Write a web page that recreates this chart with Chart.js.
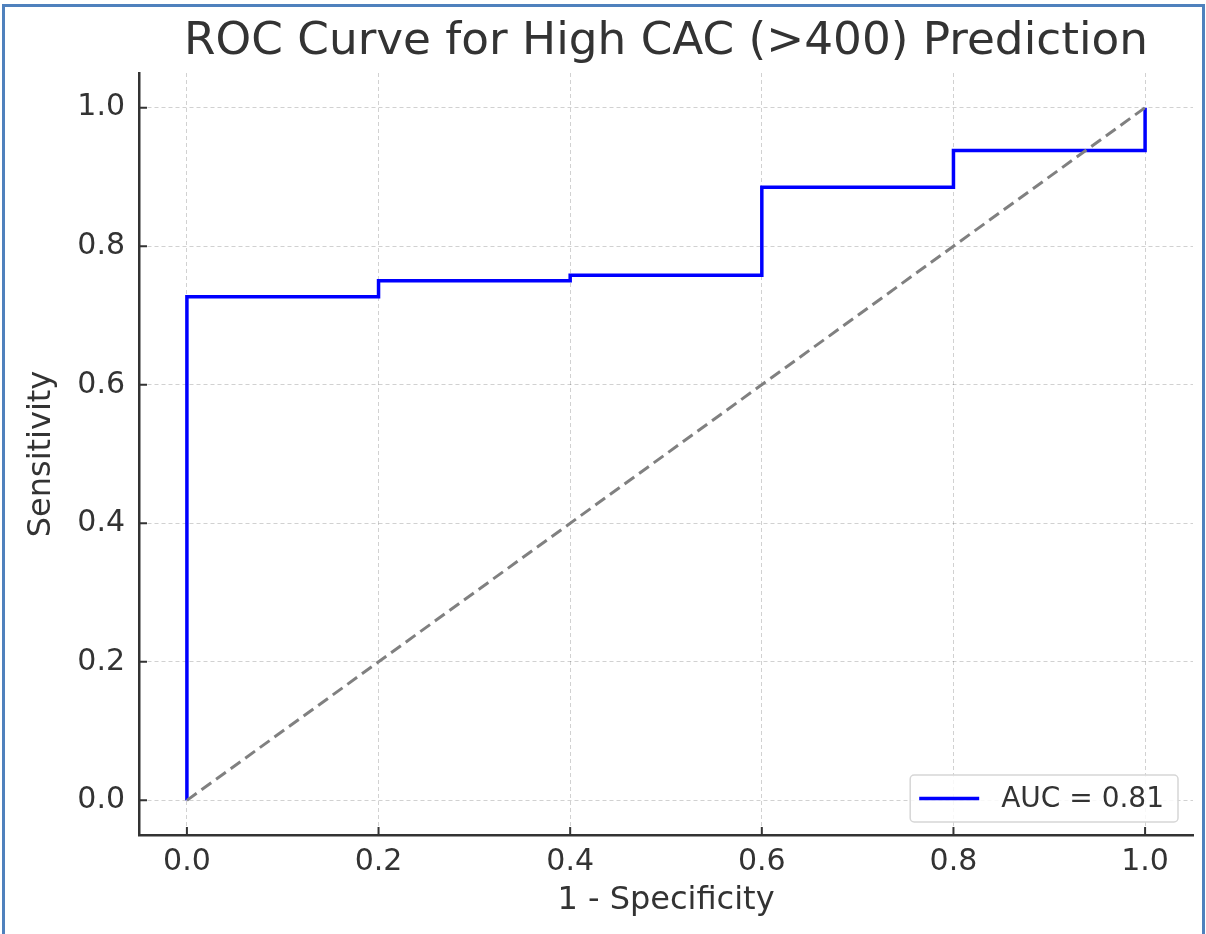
<!DOCTYPE html>
<html>
<head>
<meta charset="utf-8">
<script src="https://cdn.jsdelivr.net/npm/chart.js@4"></script>
<style>
  html, body { margin: 0; padding: 0; background: #fff; }
  #wrap { position: relative; width: 1206px; height: 934px; }
  #frame { position: absolute; left: 2px; top: 4px; right: 1px; bottom: -5px; border: 3px solid #4f81bd; pointer-events: none; }
</style>
</head>
<body>
<div id="wrap">
  <canvas id="roc" width="1206" height="934"></canvas>
  <div id="frame"></div>
</div>
<script>
// ROC points (1 - specificity, sensitivity)
const fpr = [0, 0, 0.2, 0.2, 0.4, 0.4, 0.6, 0.6, 0.8, 0.8, 1.0, 1.0];
const tpr = [0, 0.727, 0.727, 0.75, 0.75, 0.758, 0.758, 0.885, 0.885, 0.938, 0.938, 1.0];
// chance line
const chanceX = [0, 1];
const chanceY = [0, 1];
const xTicks = [0, 0.2, 0.4, 0.6, 0.8, 1.0];
const yTicks = [0, 0.2, 0.4, 0.6, 0.8, 1.0];
const aucLabel = 'AUC = 0.81';
const titleText = 'ROC Curve for High CAC (>400) Prediction';

const FONT = 'DejaVu Sans';
const INK = '#333333';

const titlePlugin = {
  id: 'plotTitle',
  afterDraw(chart) {
    const {ctx, chartArea} = chart;
    ctx.save();
    ctx.font = `44px "${FONT}"`;
    ctx.fillStyle = INK;
    ctx.textAlign = 'center';
    ctx.textBaseline = 'middle';
    // source figure text is a little wider than DejaVu
    ctx.translate((chartArea.left + chartArea.right) / 2, 43);
    ctx.scale(1.03, 1);
    ctx.fillText(titleText, 0, 0);
    ctx.restore();
  }
};

// matplotlib style: ticks pointing into the axes
const innerTicks = {
  id: 'innerTicks',
  afterDraw(chart) {
    const {ctx, chartArea, scales} = chart;
    ctx.save();
    ctx.strokeStyle = INK;
    ctx.lineWidth = 2;
    ctx.beginPath();
    xTicks.forEach(v => {
      const px = scales.x.getPixelForValue(v);
      ctx.moveTo(px, chartArea.bottom);
      ctx.lineTo(px, chartArea.bottom - 8);
    });
    yTicks.forEach(v => {
      const py = scales.y.getPixelForValue(v);
      ctx.moveTo(chartArea.left, py);
      ctx.lineTo(chartArea.left + 8, py);
    });
    ctx.stroke();
    ctx.restore();
  }
};

const boxLegend = {
  id: 'boxLegend',
  afterDraw(chart) {
    const {ctx, chartArea} = chart;
    const ds = chart.data.datasets[0];
    ctx.save();
    ctx.font = `28px "${FONT}"`;
    const tw = ctx.measureText(ds.label).width;
    const w = 9 + 60 + 22 + tw + 14;
    const h = 47;
    const x = chartArea.right - 15 - w;
    const y = chartArea.bottom - 13 - h;
    ctx.fillStyle = 'rgba(255,255,255,0.85)';
    ctx.strokeStyle = '#d6d6d6';
    ctx.lineWidth = 1.5;
    ctx.beginPath();
    ctx.roundRect(x, y, w, h, 4);
    ctx.fill();
    ctx.stroke();
    ctx.strokeStyle = ds.borderColor;
    ctx.lineWidth = 3.5;
    ctx.beginPath();
    ctx.moveTo(x + 9, y + h / 2);
    ctx.lineTo(x + 69, y + h / 2);
    ctx.stroke();
    ctx.fillStyle = INK;
    ctx.textBaseline = 'middle';
    ctx.fillText(ds.label, x + 91, y + h / 2 + 1);
    ctx.restore();
  }
};

const gridOpts = {
  color: 'rgba(0,0,0,0.18)',
  lineWidth: 1,
  drawTicks: false
};

new Chart(document.getElementById('roc'), {
  type: 'scatter',
  data: {
    datasets: [
      {
        label: aucLabel,
        data: fpr.map((x, i) => ({x: x, y: tpr[i]})),
        showLine: true,
        borderColor: '#0000ff',
        borderWidth: 3.5,
        pointRadius: 0,
        order: 1
      },
      {
        label: 'chance',
        data: chanceX.map((x, i) => ({x: x, y: chanceY[i]})),
        showLine: true,
        borderColor: '#808080',
        borderWidth: 3,
        borderDash: [12, 6],
        pointRadius: 0,
        order: 0
      }
    ]
  },
  options: {
    responsive: false,
    animation: false,
    devicePixelRatio: 1,
    layout: { padding: { top: 73, right: 13, left: 0, bottom: 0 } },
    plugins: {
      legend: { display: false },
      tooltip: { enabled: false },
      title: { display: false }
    },
    scales: {
      x: {
        type: 'linear',
        min: -0.05,
        max: 1.05,
        afterBuildTicks: s => { s.ticks = xTicks.map(v => ({value: v})); },
        afterFit: s => { s.height = 99; },
        grid: gridOpts,
        border: { display: true, color: INK, width: 2.5, dash: [4, 3] },
        ticks: {
          padding: 9,
          color: INK,
          font: { family: FONT, size: 30 },
          callback: v => Number(v).toFixed(1)
        },
        title: {
          display: true,
          text: '1 - Specificity',
          color: INK,
          font: { family: FONT, size: 32 },
          padding: { top: 0, bottom: 14 }
        }
      },
      y: {
        type: 'linear',
        min: -0.05,
        max: 1.05,
        afterBuildTicks: s => { s.ticks = yTicks.map(v => ({value: v})); },
        afterFit: s => { s.width = 139; },
        grid: gridOpts,
        border: { display: true, color: INK, width: 2.5, dash: [4, 3] },
        ticks: {
          padding: 14,
          color: INK,
          font: { family: FONT, size: 30 },
          callback: v => Number(v).toFixed(1)
        },
        title: {
          display: true,
          text: 'Sensitivity',
          color: INK,
          font: { family: FONT, size: 32 },
          padding: { top: 22, bottom: 0 }
        }
      }
    }
  },
  plugins: [titlePlugin, innerTicks, boxLegend]
});
</script>
</body>
</html>
